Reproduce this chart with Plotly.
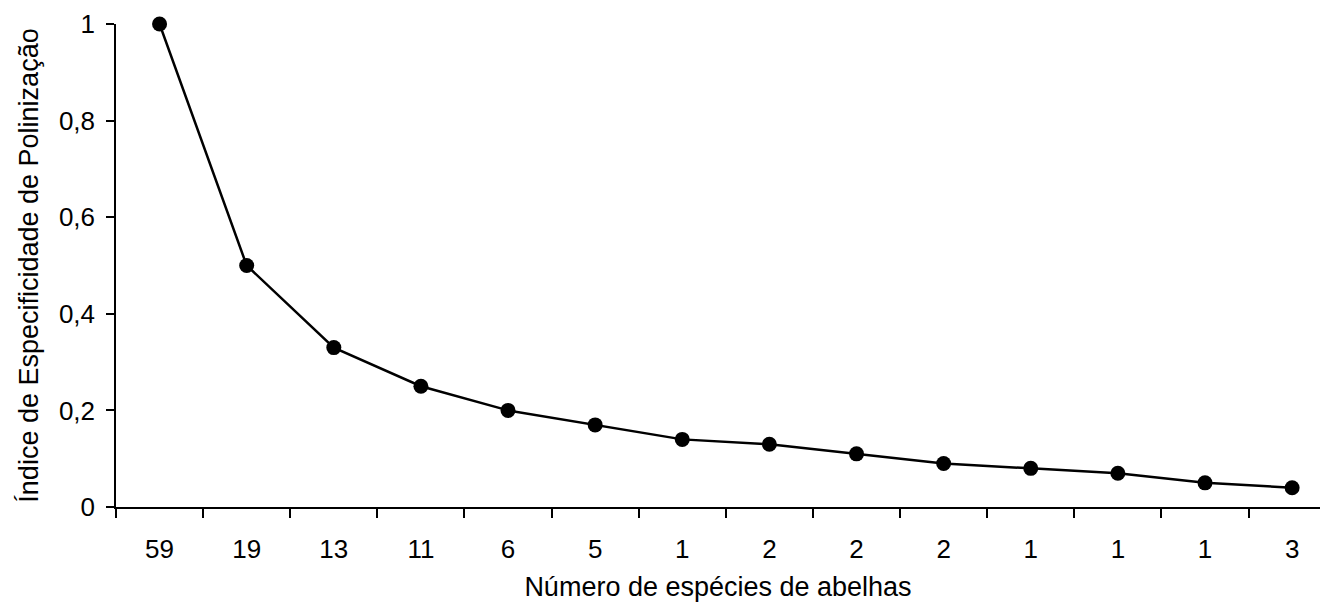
import plotly.graph_objects as go

# número de espécies de abelhas (rótulos do eixo x) e índice de especificidade
especies = ["59", "19", "13", "11", "6", "5", "1", "2", "2", "2", "1", "1", "1", "3"]
indice = [1.0, 0.5, 0.33, 0.25, 0.2, 0.17, 0.14, 0.13, 0.11, 0.09, 0.08, 0.07, 0.05, 0.04]
y_ticks = [0, 0.2, 0.4, 0.6, 0.8, 1]
y_labels = ["0", "0,2", "0,4", "0,6", "0,8", "1"]

pos = list(range(len(especies)))
fonte = dict(family="Liberation Sans, Arial, sans-serif", size=26, color="black")
fonte_titulo = dict(family="Liberation Sans, Arial, sans-serif", size=27, color="black")

fig = go.Figure()
fig.add_trace(go.Scatter(
    x=pos, y=indice, mode="lines+markers",
    line=dict(color="black", width=2.5),
    marker=dict(color="black", size=15),
    cliponaxis=False, showlegend=False,
))

# a página tem 8px de margem no body, por isso a figura é um pouco menor
fig.update_layout(
    width=1312, height=594,
    margin=dict(l=108, r=0, t=16, b=95),
    paper_bgcolor="white", plot_bgcolor="white",
    font=fonte,
)
fig.update_xaxes(
    range=[-0.5, 13.32],
    tickvals=pos, ticktext=especies, ticks="",
    ticklabelstandoff=18,
    minor=dict(tickvals=[p - 0.5 for p in pos],
               ticks="outside", ticklen=9, tickcolor="black", tickwidth=1.5),
    showline=True, linecolor="black", linewidth=1.5,
    showgrid=False, zeroline=False,
    title=dict(text="Número de espécies de abelhas", standoff=14, font=fonte_titulo),
)
fig.update_yaxes(
    range=[0, 1],
    tickvals=y_ticks, ticktext=y_labels,
    ticks="outside", ticklen=8, tickcolor="black", tickwidth=1.5,
    ticklabelstandoff=6,
    showline=True, linecolor="black", linewidth=1.5,
    showgrid=False, zeroline=False,
    title=dict(text="Índice de Especificidade de Polinização", standoff=12, font=fonte_titulo),
)

fig.write_html("out.html")
